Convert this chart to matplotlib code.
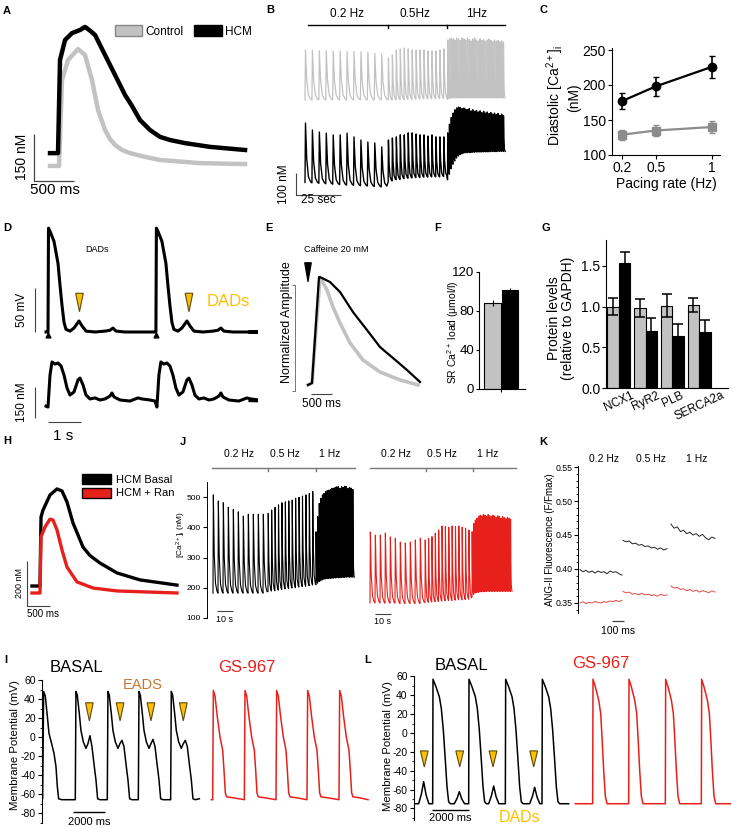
import numpy as np
import matplotlib
matplotlib.use('Agg')
import matplotlib.pyplot as plt
from matplotlib.patches import Polygon, Patch
from matplotlib.ticker import MultipleLocator

plt.rcParams['font.family'] = ['Liberation Sans', 'DejaVu Sans']
plt.rcParams['axes.unicode_minus'] = False
plt.rcParams['mathtext.default'] = 'regular'

W, H = 732, 827
LGRAY = '#c2c2c2'
RED = '#e8201c'
YEL = '#ffc000'
TRI_EC = '#5c4a10'

# ---------------- data ----------------
# A: single Ca transients (ms, nM)
A_HCM_T = [0, 100, 125, 188, 275, 375, 438, 500, 563, 688, 813, 938, 1025, 1125, 1250, 1375, 1500, 1688, 2000, 2438]
A_HCM = [168, 168, 466, 530, 552, 562, 572, 560, 546, 482, 418, 354, 319, 274, 242, 220, 210, 200, 188, 178]
A_CTRL_T = [0, 113, 150, 225, 350, 438, 525, 600, 688, 750, 813, 900, 1000, 1188, 1375, 1875, 2438]
A_CTRL = [127, 127, 402, 466, 501, 482, 402, 306, 242, 213, 194, 178, 168, 156, 146, 136, 133]

# B: pacing trains (s, nM); segments 0.2 / 0.5 / 1 Hz
B_PERIOD = [3.85, 2.2, 1.0]
B_HCM_PEAK = [[445, 414, 405, 400, 392, 392, 400, 383, 369, 360, 356, 338],
              [369, 378, 383, 392, 392, 401, 401, 396, 392, 392, 387, 392, 383, 383, 383],
              [401, 440, 470, 490, 505, 513, 517, 515, 510, 513, 508, 505, 510, 500, 505, 498,
               502, 495, 500, 492, 498, 490, 495, 488, 492, 485, 490, 483, 488, 480, 485, 478]]
B_HCM_DIA = [[178, 176, 174, 172, 170, 168, 166, 165, 163, 162, 160, 158],
             [180, 185, 190, 192, 195, 197, 198, 200, 200, 202, 202, 203, 203, 203, 205],
             [190, 215, 240, 260, 275, 288, 297, 303, 307, 310, 312, 312, 313, 313, 314, 314,
              315, 315, 315, 315, 316, 316, 316, 316, 317, 317, 317, 317, 318, 318, 318, 318]]
B_CTRL_PEAK = [[355, 354, 352, 352, 350, 350, 348, 348, 346, 345, 340, 337],
               [319, 333, 355, 360, 364, 360, 355, 355, 355, 355, 351, 351, 351, 355, 360],
               [400, 405, 409, 405, 400, 409, 405, 398, 409, 405, 400, 409, 402, 396, 405, 409,
                400, 395, 405, 398, 402, 395, 400, 405, 398, 392, 400, 395, 398, 392, 396, 390]]
B_CTRL_DIA = [[130, 130, 130, 130, 130, 130, 130, 130, 130, 130, 130, 130],
              [130, 130, 131, 132, 132, 133, 133, 134, 134, 135, 135, 135, 136, 136, 137],
              [132, 136, 138, 139, 139, 139, 139, 139, 139, 139, 139, 139, 139, 139, 139, 139,
               139, 139, 139, 139, 139, 139, 139, 139, 139, 139, 139, 139, 139, 139, 139, 139]]
B_CTRL_OFFSET = 419  # vertical stacking of the control trace

# C: diastolic Ca vs pacing rate
C_RATE = [0.2, 0.5, 1.0]
C_HCM = [177, 198, 226]
C_HCM_ERR = [11, 14, 16]
C_CTRL = [129, 135, 140]
C_CTRL_ERR = [7, 8, 9]

# D: AP (ms, mV) and Ca (ms, nM), one beat shape repeated
D_BEATS = [0, 3270]
D_AP_T = [0, 15, 61, 182, 303, 364, 424, 485, 545, 667, 788, 939, 1030, 1152, 1424, 1727, 1879, 1970, 2061, 2333, 3242]
D_AP_V = [-80, 38, 34.5, 23, -2, -27, -49.5, -69, -77, -79, -75.5, -67.5, -73, -79, -80, -79, -78, -75.5, -79, -80, -80]
D_CA_T = [0, 61, 121, 212, 303, 394, 485, 576, 667, 788, 909, 970, 1061, 1152, 1273, 1424, 1576, 1727,
          1879, 1939, 2000, 2182, 2485, 2727, 2848, 3091, 3242]
D_CA_V = [66, 221, 284, 274, 279, 265, 221, 158, 124, 139, 197, 206, 173, 124, 105, 110, 100, 105,
          119, 134, 115, 100, 95, 110, 105, 100, 95]
D_DAD_T = [954, 4272]

# E: caffeine-induced transients (ms, normalized)
E_HCM_T = [0, 95, 262, 333, 524, 762, 1071, 1405, 1714, 2024, 2357, 2667]
E_HCM = [0.057, 0.075, 1.075, 1.066, 1.028, 0.934, 0.745, 0.575, 0.415, 0.311, 0.198, 0.085]
E_CTRL_T = [0, 95, 286, 452, 595, 762, 1000, 1310, 1714, 2190, 2619]
E_CTRL = [0.057, 0.075, 1.075, 0.953, 0.792, 0.642, 0.453, 0.292, 0.179, 0.104, 0.057]

# F: SR Ca load
F_VALS = [88, 102]
F_ERR = [3, 2]

# G: protein levels
G_GENES = ['NCX1', 'RyR2', 'PLB', 'SERCA2a']
G_CTRL = [1.00, 0.98, 1.01, 1.02]
G_CTRL_ERR = [0.10, 0.11, 0.14, 0.09]
G_HCM = [1.53, 0.70, 0.64, 0.69]
G_HCM_ERR = [0.14, 0.16, 0.15, 0.14]

# H: basal vs ranolazine transients (ms, nM)
H_BASAL_T = [-174, 0, 22, 65, 217, 369, 477, 586, 716, 933, 1085, 1302, 1671, 2170, 2973]
H_BASAL = [180, 180, 486, 517, 584, 611, 602, 553, 460, 353, 315, 282, 238, 207, 184]
H_RAN_T = [-174, 0, 22, 109, 217, 282, 369, 477, 586, 803, 1150, 1671, 2973]
H_RAN = [149, 149, 398, 442, 477, 473, 429, 340, 264, 198, 171, 158, 149]

# J: pacing trains (s, nM)
J_PERIOD_BASAL = [3.125, 2.14, 1.0]
J_PERIOD_RAN = [3.125, 2.1, 1.0]
J_BASAL_PEAK = [[507, 487, 481, 466, 459, 451, 437, 443, 443, 443, 443],
                [446, 457, 466, 474, 481, 484, 487, 490, 496, 499, 503, 507, 512, 518],
                [385, 435, 479, 496, 507, 512, 518, 521, 523, 525, 529, 529, 532, 534, 534, 529,
                 534, 532, 536, 534, 529, 532, 529, 525]]
J_BASAL_DIA = [[182, 182, 182, 182, 182, 182, 182, 182, 182, 182, 182],
               [187, 189, 190, 192, 194, 196, 197, 199, 200, 202, 204, 205, 207, 209],
               [210, 215, 220, 223, 226, 228, 229, 230, 230, 231, 231, 232, 232, 233, 233, 233,
                234, 234, 234, 235, 235, 235, 235, 235]]
J_RAN_PEAK = [[384, 374, 374, 381, 368, 364, 351, 348, 351, 358, 364],
              [358, 363, 369, 380, 391, 404, 402, 400, 404, 402, 404, 400, 397, 391],
              [385, 413, 424, 430, 435, 440, 437, 442, 440, 436, 442, 438, 435, 440, 437, 433,
               438, 435, 430, 436, 432, 428, 433, 430, 427]]
J_RAN_DIA = [[150, 150, 150, 149, 149, 149, 148, 148, 148, 148, 148],
             [151, 152, 153, 154, 155, 156, 157, 158, 158, 159, 160, 160, 161, 162],
             [170, 178, 182, 184, 185, 186, 187, 187, 187, 188, 188, 188, 188, 188, 188, 188,
              188, 188, 188, 188, 188, 188, 188, 188, 188]]

# K: ANG-II fluorescence (ms, F/Fmax)
K_SEG = [(0, 350), (358, 725), (758, 1125)]
K_BASAL = [[0.399, 0.396, 0.398, 0.395, 0.397, 0.394, 0.397, 0.395, 0.396, 0.393, 0.397, 0.395, 0.396, 0.393, 0.391],
           [0.442, 0.440, 0.441, 0.437, 0.438, 0.435, 0.436, 0.433, 0.434, 0.431, 0.432, 0.429, 0.431, 0.428, 0.430],
           [0.466, 0.460, 0.462, 0.455, 0.457, 0.452, 0.454, 0.450, 0.452, 0.448, 0.451, 0.446, 0.443, 0.447, 0.445]]
K_RAN = [[0.350, 0.352, 0.349, 0.351, 0.350, 0.352, 0.351, 0.350, 0.352, 0.351, 0.353, 0.352, 0.354, 0.352, 0.354],
         [0.367, 0.365, 0.366, 0.363, 0.364, 0.362, 0.364, 0.362, 0.363, 0.361, 0.362, 0.360, 0.363, 0.361, 0.362],
         [0.375, 0.372, 0.373, 0.370, 0.371, 0.368, 0.370, 0.367, 0.369, 0.366, 0.368, 0.367, 0.365, 0.368, 0.366]]

# I: APs with EADs (ms, mV)
I_AP_T = [0, 62, 167, 292, 396, 562, 708, 833, 917, 1000, 1190]
I_AP_V = [-65, 48, 43, 22, 4, -7, -17, -31, -52, -65, -66]
I_EAD_T = [0, 42, 125, 250, 354, 500, 667, 792, 917, 1042, 1167, 1292, 1396, 1542]
I_EAD_V = [-66, 48, 44, 25, 7, -5, -12, -7, 1, -10, -28, -45, -65, -66]
I_EAD_PEAK = [1.4, -3.5, -2.5, -3.5]
I_BASAL_UP = [40, 2080, 4080, 6020, 8040]
I_GS_UP = [10667, 12646, 14625, 16562, 18562]
I_GS_T = [0, 42, 146, 292, 458, 625, 708, 792, 875, 1292]
I_GS_V = [-66, 49, 43, 21, 0, -14, -35, -59, -63, -64]
I_TRI = [2960, 4880, 6810, 8830]

# L: APs with DADs (ms, mV)
L_AP_T = [0, 18, 180, 360, 468, 576, 684, 774, 864, 954]
L_AP_V = [-75, 57, 49, 38.5, 26, 3, -29, -57, -73, -75]
L_BASAL_UP = [1008, 2952, 4932, 6912]
L_DAD_T = [522, 2448, 4302, 6516]
L_DAD_V = [-51.6, -62.2, -56.2, -57.6]
L_GS_UP = [9648, 11592, 13572, 15516]
L_GS_T = [0, 18, 144, 324, 432, 504, 594, 684, 774]
L_GS_V = [-75, 57, 49, 35, 21, -4, -39, -67, -75]
L_TRI = [556, 2468, 4266, 6464]

# ---------------- helpers ----------------
fig = plt.figure(figsize=(W / 100, H / 100), dpi=100)


def panel(box, xref, yref):
    # box in pixels (left, top, right, bottom); ref = (pixel, value, pixels per unit)
    x0, y0, x1, y1 = box
    ax = fig.add_axes([x0 / W, 1 - y1 / H, (x1 - x0) / W, (y1 - y0) / H])
    ax.set_xlim(xref[1] + (x0 - xref[0]) / xref[2], xref[1] + (x1 - xref[0]) / xref[2])
    ax.set_ylim(yref[1] - (y1 - yref[0]) / yref[2], yref[1] - (y0 - yref[0]) / yref[2])
    ax.patch.set_visible(False)
    return ax


def bare(ax):
    for s in ax.spines.values():
        s.set_visible(False)
    ax.set_xticks([])
    ax.set_yticks([])


def tri(ax, xc, ytop, ytip, hw, fc=YEL, ec=TRI_EC):
    ax.add_patch(Polygon([[xc - hw, ytop], [xc + hw, ytop], [xc, ytip]], closed=True,
                         fc=fc, ec=ec, lw=0.8, clip_on=False, zorder=5))


SHAPE_F = [0, 0.07, 0.25, 0.5, 0.8]
SHAPE_S = [0, 1, 0.4, 0.1, 0.02]


def train(periods, peaks, dias):
    t, v, t0 = [], [], 0.0
    for P, pk, dia in zip(periods, peaks, dias):
        for i in range(len(pk)):
            nxt = dia[i + 1] if i + 1 < len(dia) else dia[i]
            for f, s in zip(SHAPE_F, SHAPE_S):
                base = dia[i] if f == 0 else nxt
                t.append(t0 + (i + f) * P)
                v.append(base + (pk[i] - base) * s)
        t0 += len(pk) * P
    t.append(t0)
    v.append(dias[-1][-1])
    return t, v


def sbar(ax, xs, ys, lw=0.9, color='#444'):
    ax.plot(xs, ys, color=color, lw=lw, clip_on=False, solid_capstyle='butt')


def vaxis(ax, labelsize=7.5):
    for s in ['top', 'right', 'bottom']:
        ax.spines[s].set_visible(False)
    ax.set_xticks([])
    ax.tick_params(axis='y', direction='out', length=3, width=0.8, labelsize=labelsize, pad=1.5)


# ---------------- A ----------------
axA = panel((10, 15, 250, 200), (50, 0, 0.08), (165, 130, 0.3125))
bare(axA)
axA.plot(A_CTRL_T, A_CTRL, color=LGRAY, lw=3.2, solid_joinstyle='round')
axA.plot(A_HCM_T, A_HCM, color='black', lw=3.2, solid_joinstyle='round')
sbar(axA, [-200, -200, 300], [229, 79, 79])
axA.legend([Patch(fc=LGRAY, ec='#888'), Patch(fc='black', ec='black')], ['Control', 'HCM'],
           ncol=2, loc='upper right', bbox_to_anchor=(252 / W, 1 - 25 / H), bbox_transform=fig.transFigure,
           frameon=False, fontsize=8.5, handlelength=2.3, handleheight=1.1, columnspacing=0.9,
           handletextpad=0.3, borderaxespad=0, borderpad=0)

# ---------------- B ----------------
axB = panel((290, 30, 515, 205), (305, 0, 1.8), (182, 180, 1 / 4.5))
bare(axB)
tb, vb = train(B_PERIOD, B_CTRL_PEAK, B_CTRL_DIA)
axB.plot(tb, np.array(vb) + B_CTRL_OFFSET, color=LGRAY, lw=0.9)
tb, vb = train(B_PERIOD, B_HCM_PEAK, B_HCM_DIA)
axB.plot(tb, vb, color='black', lw=1.0)
sbar(axB, [-5, -5, 20], [221.5, 121.5, 121.5], lw=0.8)

# ---------------- C ----------------
axC = panel((612, 48, 720, 155), (622, 0.2, 112.5), (155, 100, 0.7))
for s in ['top', 'right']:
    axC.spines[s].set_visible(False)
axC.errorbar(C_RATE, C_CTRL, yerr=C_CTRL_ERR, color='#8c8c8c', marker='s', ms=5.5, lw=1.6,
             capsize=2.5, elinewidth=1.2, clip_on=False)
axC.errorbar(C_RATE, C_HCM, yerr=C_HCM_ERR, color='black', marker='o', ms=6, lw=1.6,
             capsize=2.5, elinewidth=1.2, clip_on=False)
axC.set_xticks(C_RATE, ['0.2', '0.5', '1'])
axC.set_yticks([100, 150, 200, 250])
axC.tick_params(direction='out', length=3, labelsize=10, pad=1.5)

# ---------------- D ----------------
axD1 = panel((10, 215, 258, 345), (48, 0, 0.033), (332, -80, 0.88))
bare(axD1)
td, vd = [-60], [-80]
for b in D_BEATS:
    td += [b + x for x in D_AP_T]
    vd += D_AP_V
td.append(6120)
vd.append(-80)
axD1.plot(td, vd, color='black', lw=2.2)
axD1.plot(D_BEATS, [-83.5] * len(D_BEATS), ls='none', marker='^', color='black', ms=3.5, clip_on=False)
for t in D_DAD_T:
    tri(axD1, t, -36, -57, 115)
sbar(axD1, [-394, -394], [-80, -30], lw=0.8)

axD2 = panel((10, 350, 258, 445), (48, 0, 0.033), (400, 100, 1 / 4.84))
bare(axD2)
tc, vc = [-60], [70]
for b in [0, 3300]:
    tc += [b + x for x in D_CA_T]
    vc += D_CA_V
tc.append(6120)
vc.append(97)
axD2.plot(tc, vc, color='black', lw=2.2)
sbar(axD2, [-394, -394], [13, 163], lw=0.8)
sbar(axD2, [0, 1000], [-6.5, -6.5], lw=0.8)

# ---------------- E ----------------
axE = panel((295, 270, 430, 400), (308, 0, 0.042), (391, 0, 106))
for s in ['top', 'right', 'bottom']:
    axE.spines[s].set_visible(False)
axE.spines['left'].set_bounds(0, 1)
axE.spines['left'].set_color('#777')
axE.spines['left'].set_linewidth(0.7)
axE.set_xticks([])
axE.set_yticks([0, 1], ['', ''])
axE.tick_params(axis='y', length=2.5, width=0.7, color='#777')
axE.plot(E_CTRL_T, E_CTRL, color=LGRAY, lw=2.6)
axE.plot(E_HCM_T, E_HCM, color='black', lw=1.6)
tri(axE, 0, 1.21, 1.03, 80, fc='black', ec='black')
sbar(axE, [71, 571], [-0.028, -0.028], lw=0.8)

# ---------------- F ----------------
axF = panel((479, 272, 525, 389), (492.5, 0, 17.5), (389, 0, 117 / 120))
for s in ['top', 'right']:
    axF.spines[s].set_visible(False)
axF.bar([0, 1], F_VALS, width=0.97, color=[LGRAY, 'black'], edgecolor='black', lw=0.8)
axF.errorbar([0, 1], F_VALS, yerr=F_ERR, fmt='none', ecolor='black', elinewidth=0.8, capsize=0)
axF.set_xticks([0.5], [''])
axF.set_yticks([0, 40, 80, 120])
axF.tick_params(direction='out', length=2.5, labelsize=9.5, pad=1)

# ---------------- G ----------------
axG = panel((606, 240, 728, 388), (618.8, 0, 26.8), (388, 0, 81.5))
for s in ['top', 'right']:
    axG.spines[s].set_visible(False)
xg = np.arange(len(G_GENES))
axG.bar(xg - 0.215, G_CTRL, width=0.43, color=LGRAY, edgecolor='black', lw=0.8,
        yerr=G_CTRL_ERR, capsize=3.5, error_kw=dict(elinewidth=1.1, capthick=1.1))
axG.bar(xg + 0.215, G_HCM, width=0.43, color='black', edgecolor='black', lw=0.8,
        yerr=G_HCM_ERR, capsize=3.5, error_kw=dict(elinewidth=1.1, capthick=1.1))
axG.set_yticks([0, 0.5, 1.0, 1.5], ['0.0', '0.5', '1.0', '1.5'])
axG.set_xticks(xg, G_GENES, rotation=25, ha='center')
axG.tick_params(axis='y', direction='out', length=3, labelsize=10, pad=1)
axG.tick_params(axis='x', direction='out', length=0, labelsize=8.5, pad=1)

# ---------------- H ----------------
axH = panel((15, 470, 185, 620), (40, 0, 0.04608), (586, 180, 0.2252))
bare(axH)
axH.plot(H_BASAL_T, H_BASAL, color='black', lw=2.4)
axH.plot(H_RAN_T, H_RAN, color=RED, lw=2.4)
sbar(axH, [-282, -282, 218], [291, 91, 91], lw=0.8)
axH.legend([Patch(fc='black', ec='black'), Patch(fc=RED, ec='black')], ['HCM Basal', 'HCM + Ran'],
           loc='upper left', bbox_to_anchor=(82 / W, 1 - 474 / H), bbox_transform=fig.transFigure,
           frameon=False, fontsize=8, handlelength=2.6, handleheight=1.0, labelspacing=0.25,
           handletextpad=0.5, borderaxespad=0, borderpad=0)

# ---------------- J ----------------
axJ1 = panel((207, 482, 360, 618), (213, 0, 1.6), (618, 100, 0.3025))
vaxis(axJ1, labelsize=6)
axJ1.set_yticks([100, 200, 300, 400, 500])
axJ1.spines['left'].set_linewidth(0.7)
tj, vj = train(J_PERIOD_BASAL, J_BASAL_PEAK, J_BASAL_DIA)
axJ1.plot(tj, vj, color='black', lw=0.8)
sbar(axJ1, [2.5, 12.5], [123, 123], lw=0.8)

axJ2 = panel((365, 482, 520, 618), (370, 0, 1.6), (618, 100, 0.3025))
bare(axJ2)
tj, vj = train(J_PERIOD_RAN, J_RAN_PEAK, J_RAN_DIA)
axJ2.plot(tj, vj, color=RED, lw=0.8)
sbar(axJ2, [3.1, 13.1], [113, 113], lw=0.8)

# ---------------- K ----------------
axK = panel((578, 466, 725, 613), (580, 0, 0.12), (467, 0.55, 680))
vaxis(axK, labelsize=6.3)
axK.tick_params(axis='y', pad=1)
axK.spines['left'].set_linewidth(0.7)
axK.set_yticks([0.35, 0.40, 0.45, 0.50, 0.55])
axK.yaxis.set_minor_locator(MultipleLocator(0.01))
axK.tick_params(axis='y', which='minor', length=1.5, width=0.6)
for (t0, t1), vb, vr in zip(K_SEG, K_BASAL, K_RAN):
    tk = np.linspace(t0, t1, len(vb))
    axK.plot(tk, vb, color='#222', lw=0.7)
    axK.plot(tk, vr, color='#e84a40', lw=0.7)
sbar(axK, [267, 367], [0.3235, 0.3235], lw=0.9)

# ---------------- I ----------------
axI = panel((42, 680, 372, 823), (42, 0, 0.016), (737, 0, 0.95))
vaxis(axI, labelsize=7.5)
axI.set_yticks(range(-80, 61, 20))
axI.yaxis.set_minor_locator(MultipleLocator(10))
axI.tick_params(axis='y', which='minor', length=1.5)
ti, vi = [0], [-66]
for k, u in enumerate(I_BASAL_UP):
    if k == 0:
        ti += [u + x for x in I_AP_T]
        vi += I_AP_V
    else:
        shape = list(I_EAD_V)
        shape[8] = I_EAD_PEAK[k - 1]
        ti += [u + x for x in I_EAD_T]
        vi += shape
ti.append(9833)
vi.append(-65)
axI.plot(ti, vi, color='black', lw=1.1)
ti, vi = [10583], [-66]
for u in I_GS_UP:
    ti += [u + x for x in I_GS_T]
    vi += I_GS_V
ti.append(20375)
vi.append(-66)
axI.plot(ti, vi, color=RED, lw=1.1)
for t in I_TRI:
    tri(axI, t, 36, 17, 240)
sbar(axI, [1937, 3937], [-79, -79], lw=1.0, color='black')

# ---------------- L ----------------
axL = panel((414, 676.4, 732, 820), (414, 0, 1 / 54), (733, 0, 0.943))
vaxis(axL, labelsize=7.5)
axL.set_yticks(range(-80, 61, 20))
axL.yaxis.set_minor_locator(MultipleLocator(10))
axL.tick_params(axis='y', which='minor', length=1.5)
DAD_DT = [-270, -120, 0, 130, 280]
DAD_FRAC = [0, 0.45, 1, 0.4, 0]
events = [(u, 'ap', None) for u in L_BASAL_UP] + [(t, 'dad', v) for t, v in zip(L_DAD_T, L_DAD_V)]
events.sort()
tl, vl = [0], [-75]
for t, kind, v in events:
    if kind == 'ap':
        tl += [t + x for x in L_AP_T]
        vl += L_AP_V
    else:
        tl += [t + d for d in DAD_DT]
        vl += [-75 + (v + 75) * f for f in DAD_FRAC]
tl.append(8352)
vl.append(-75)
axL.plot(tl, vl, color='black', lw=1.1)
tl, vl = [8712], [-75]
for u in L_GS_UP:
    tl += [u + x for x in L_GS_T]
    vl += L_GS_V
tl.append(17082)
vl.append(-75)
axL.plot(tl, vl, color=RED, lw=1.1)
for t in L_TRI:
    tri(axL, t, -19, -36, 210)
sbar(axL, [970, 2970], [-82, -82], lw=1.0, color='black')

# ---------------- overlay text ----------------
ov = fig.add_axes([0, 0, 1, 1])
ov.set_xlim(0, W)
ov.set_ylim(H, 0)
ov.axis('off')


def txt(x, y, s, size, rot=0, color='black', ha='center', weight='normal'):
    ov.text(x, y, s, fontsize=size, rotation=rot, color=color, ha=ha, va='center', fontweight=weight)


for lab, x, y in [('A', 3, 11), ('B', 266, 10), ('C', 539, 10), ('D', 3, 228), ('E', 265, 228),
                  ('F', 434, 228), ('G', 542, 228), ('H', 3, 441), ('J', 180, 442), ('K', 539, 442),
                  ('I', 4, 660), ('L', 364, 660)]:
    txt(x, y, lab, 8, ha='left', weight='bold')

# A
txt(22, 157, '150 nM', 10, rot=90)
txt(55, 190, '500 ms', 11)
# B
ov.plot([308, 505], [25, 25], color='black', lw=1)
for x in [388, 447]:
    ov.plot([x, x], [25, 28], color='black', lw=1)
txt(347, 14, '0.2 Hz', 8.5)
txt(415, 14, '0.5Hz', 8.5)
txt(477, 14, '1Hz', 8.5)
txt(284, 184, '100 nM', 8.5, rot=90)
txt(318, 200, '25 sec', 8.5)
# C
txt(555, 96, 'Diastolic [Ca$^{2+}$]$_i$', 10, rot=90)
txt(574, 98, '(nM)', 10, rot=90)
txt(666, 184, 'Pacing rate (Hz)', 10)
# D
txt(22, 310, '50 mV', 8.5, rot=90)
txt(22, 402, '150 nM', 8.5, rot=90)
txt(63, 436, '1 s', 11)
txt(97, 250, 'DADs', 6.5)
txt(228, 301, 'DADs', 12, color=YEL)
# E
txt(304, 250, 'Caffeine 20 mM', 6.6, ha='left')
txt(287, 322, 'Normalized Amplitude', 9, rot=90)
txt(321, 404, '500 ms', 8.5)
# F
txt(453, 332, 'SR Ca$^{2+}$ load (μmol/l)', 7.5, rot=90)
# G
ov.text(561, 318, 'Protein levels\n(relative to GAPDH)', fontsize=10, rotation=90, ha='center',
        va='center', linespacing=1.05)
# H
txt(19, 583, '200 nM', 6.5, rot=90)
txt(43, 614, '500 ms', 7)
# J
for x0, x1, ticks, labs in [(212, 355, [268, 316], [(239, '0.2 Hz'), (285, '0.5 Hz'), (330, '1 Hz')]),
                            (370, 516, [426, 473], [(396, '0.2 Hz'), (442, '0.5 Hz'), (488, '1 Hz')])]:
    ov.plot([x0, x1], [468, 468], color='#777', lw=1)
    for x in ticks:
        ov.plot([x, x], [468, 471], color='#777', lw=1)
    for x, s in labs:
        txt(x, 454, s, 7.5)
txt(181, 534, '[Ca$^{2+}$]$_i$ (nM)', 6, rot=90)
txt(225, 619, '10 s', 6.5)
txt(383, 622, '10 s', 6.5)
# K
txt(604, 459, '0.2 Hz', 7.5)
txt(651, 459, '0.5 Hz', 7.5)
txt(697, 459, '1 Hz', 7.5)
txt(550, 540, 'ANG-II Fluorescence (F/Fmax)', 7, rot=90)
txt(618, 631, '100 ms', 7.5)
# I
txt(76, 667, 'BASAL', 12)
txt(247, 667, 'GS-967', 12, color=RED)
txt(143, 685, 'EADS', 10.5, color='#c87533')
txt(15, 745, 'Membrane Potential (mV)', 8.2, rot=90)
txt(89, 822, '2000 ms', 8)
# L
txt(461, 665, 'BASAL', 12)
txt(601, 663, 'GS-967', 12, color=RED)
txt(520, 818, 'DADs', 11.5, color=YEL)
txt(388, 746, 'Membrane Potential (mV)', 8.2, rot=90)
txt(450, 818, '2000 ms', 8)

fig.savefig('out.png', dpi=100)
